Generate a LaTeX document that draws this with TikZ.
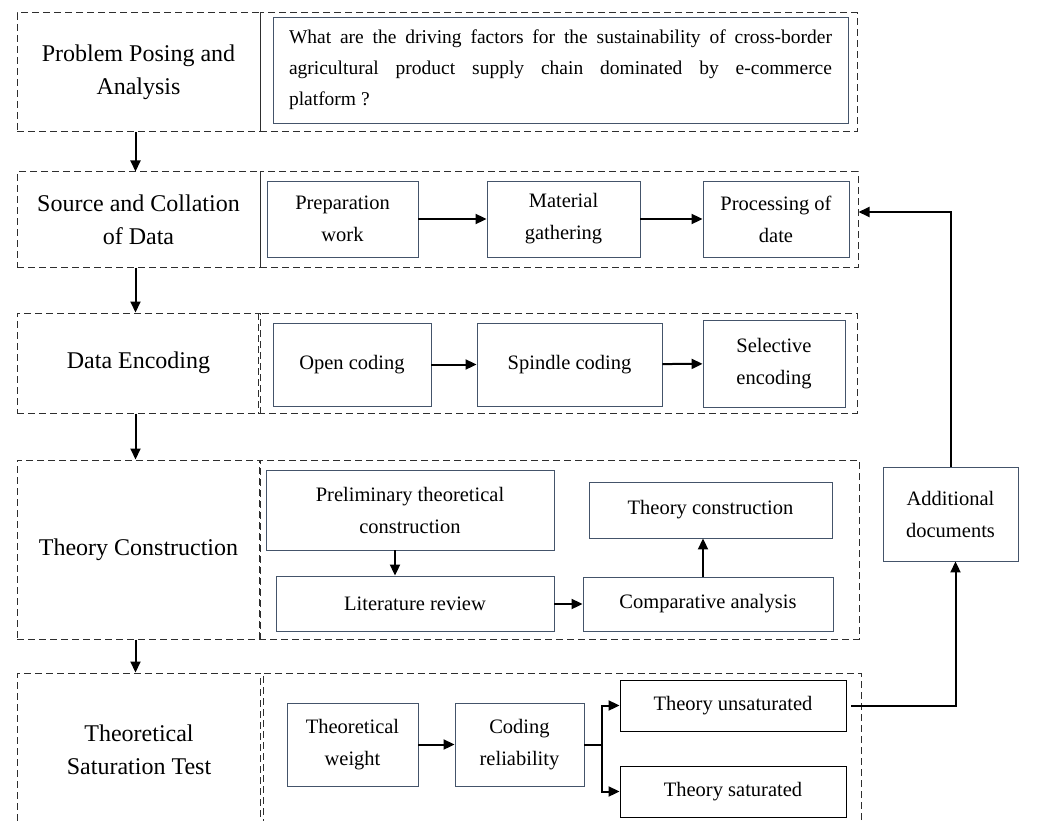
\documentclass[tikz,border=0pt]{standalone}
\usepackage{fontspec}
\setmainfont{Liberation Serif}
\usepackage{tikz}
\usetikzlibrary{arrows.meta}
\definecolor{dashc}{HTML}{2E2E2E}
\definecolor{boxc}{HTML}{44546A}
\tikzset{
  stage/.style={draw=dashc, dash pattern=on 7pt off 4pt, line width=1pt, minimum width=243pt, inner sep=0pt, align=center, font=\fontsize{24}{33}\selectfont},
  panel/.style={draw=dashc, dash pattern=on 7pt off 4pt, line width=1pt, inner sep=0pt},
  item/.style={draw=boxc, line width=0.9pt, inner sep=0pt, align=center, font=\fontsize{20.5}{32}\selectfont},
  itemk/.style={item, draw=black},
  arr/.style={draw=black, line width=2pt, -{Triangle[length=11pt,width=10pt]}},
  link/.style={draw=black, line width=2pt},
}
\begin{document}
\begin{tikzpicture}[x=1pt, y=-1pt]
  \useasboundingbox (0,0) rectangle (1051,821);

  % stages on the left
  \node[stage, minimum height=119pt] (s1) at (138.5,72.5) {Problem Posing and\\Analysis};
  \node[stage, minimum height=95pt] (s2) at (138.5,219.5) {Source and Collation\\of Data};
  \node[stage, minimum height=100pt] (s3) at (138.5,363) {Data Encoding};
  \node[stage, minimum height=179pt] (s4) at (138.5,549.5) {Theory Construction};
  \node[stage, minimum height=154pt] (s5) at (139,750) {Theoretical\\Saturation Test};

  % panels on the right
  \node[panel, minimum width=597pt, minimum height=119pt] (p1) at (558.5,72.5) {};
  \node[panel, minimum width=598pt, minimum height=95pt] (p2) at (559,219.5) {};
  \node[panel, minimum width=599pt, minimum height=100pt] (p3) at (557.5,363) {};
  \node[panel, minimum width=600pt, minimum height=179pt] (p4) at (559,549.5) {};
  \node[panel, minimum width=598pt, minimum height=154pt] (p5) at (562,750) {};

  \draw[arr] ([xshift=-3pt]s1.south) -- ([xshift=-3pt]s1.south |- s2.north);
  \draw[arr] ([xshift=-3pt]s2.south) -- ([xshift=-3pt]s2.south |- s3.north);
  \draw[arr] ([xshift=-3pt]s3.south) -- ([xshift=-3pt]s3.south |- s4.north);
  \draw[arr] ([xshift=-3pt]s4.south) -- ([xshift=-3pt]s4.south |- s5.north);

  % problem
  \node[item, minimum width=575pt, minimum height=106pt, text width=543pt, align=justify,
        font=\fontsize{19.5}{31}\selectfont] (qst) at (560.5,70)
    {What are the driving factors for the sustainability of cross-border\linebreak
     agricultural product supply chain dominated by e-commerce\linebreak platform ?};

  % data
  \node[item, minimum width=151pt, minimum height=76pt] (prep) at (342.5,219) {Preparation\\work};
  \node[item, minimum width=153pt, minimum height=76pt] (mat) at (563.5,219) {Material\\gathering};
  \node[item, minimum width=146pt, minimum height=76pt] (proc) at (776,219) {Processing of\\date};
  \draw[arr] (prep) -- (mat);
  \draw[arr] (mat) -- (proc);

  % encoding
  \node[item, minimum width=158pt, minimum height=83pt] (open) at (352,364.5) {Open coding};
  \node[item, minimum width=185pt, minimum height=83pt] (spin) at (569.5,364.5) {Spindle coding};
  \node[item, minimum width=142pt, minimum height=87pt] (sel) at (774,363.5) {Selective\\encoding};
  \draw[arr] (open) -- (spin);
  \draw[arr] (spin) -- (sel);

  % construction
  \node[item, minimum width=288pt, minimum height=80pt] (prel) at (410,510) {Preliminary theoretical\\construction};
  \node[item, minimum width=278pt, minimum height=55pt] (lit) at (415,603.5) {Literature review};
  \node[item, minimum width=250pt, minimum height=54pt] (comp) at (708,604) {Comparative analysis};
  \node[item, minimum width=243pt, minimum height=56pt] (tc) at (710.5,510) {Theory construction};
  \draw[arr] ([xshift=-15pt]prel.south) -- ([xshift=-15pt]prel.south |- lit.north);
  \draw[arr] (lit.east |- comp.west) -- (comp.west);
  \draw[arr] ([xshift=-5pt]comp.north) -- ([xshift=-5pt]comp.north |- tc.south);

  \node[item, minimum width=135pt, minimum height=94pt] (add) at (950.5,514) {Additional\\documents};

  % saturation
  \node[item, minimum width=131pt, minimum height=83pt] (tw) at (352.5,744.5) {Theoretical\\weight};
  \node[item, minimum width=129pt, minimum height=83pt] (cod) at (519.5,744.5) {Coding\\reliability};
  \node[itemk, minimum width=226pt, minimum height=51pt] (uns) at (733,705.5) {Theory unsaturated};
  \node[itemk, minimum width=226pt, minimum height=51pt] (sat) at (733,791.5) {Theory saturated};
  \draw[arr] (tw) -- (cod);
  \draw[link] (cod.east) -- ++(18,0) coordinate (fork);
  \draw[arr] (fork) |- (uns.west);
  \draw[arr] (fork) |- (sat.west);

  % loop back
  \draw[arr] ([xshift=5pt]uns.east) -| ([xshift=5pt]add.south);
  \draw[arr] (add.north) |- ([yshift=7.5pt]p2.east);
\end{tikzpicture}
\end{document}
